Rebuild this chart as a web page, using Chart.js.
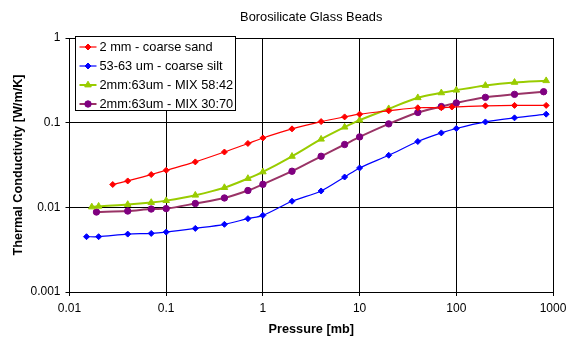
<!DOCTYPE html>
<html>
<head>
<meta charset="utf-8">
<script src="https://cdn.jsdelivr.net/npm/chart.js@4/dist/chart.umd.min.js"></script>
<style>
    html, body { margin: 0; padding: 0; background: #fff; }
    #wrap { width: 568px; height: 337px; }
</style>
</head>
<body>
<div id="wrap"><canvas id="chart" width="568" height="337"></canvas></div>
<script>
// values
const sandPressure = [0.028, 0.04, 0.07, 0.1, 0.2, 0.4, 0.7, 1, 2, 4, 7, 10, 20, 40, 70, 90, 200, 400, 850];
const sandK = [0.0186, 0.0205, 0.0244, 0.0274, 0.0344, 0.045, 0.0568, 0.066, 0.0845, 0.103, 0.117, 0.126, 0.138, 0.15, 0.15, 0.153, 0.158, 0.16, 0.16];

const siltPressure = [0.015, 0.02, 0.04, 0.07, 0.1, 0.2, 0.4, 0.7, 1, 2, 4, 7, 10, 20, 40, 70, 100, 200, 400, 850];
const siltK = [0.0045, 0.0045, 0.00483, 0.00492, 0.0051, 0.00564, 0.0063, 0.00735, 0.00804, 0.0118, 0.0156, 0.0228, 0.0292, 0.0412, 0.0599, 0.0757, 0.0854, 0.102, 0.114, 0.126];

const mix5842Pressure = [0.017, 0.02, 0.04, 0.07, 0.1, 0.2, 0.4, 0.7, 1, 2, 4, 7, 10, 20, 40, 70, 100, 200, 400, 850];
const mix5842K = [0.0101, 0.0103, 0.0108, 0.0114, 0.012, 0.0139, 0.0171, 0.0219, 0.0262, 0.04, 0.0638, 0.0885, 0.107, 0.146, 0.197, 0.225, 0.242, 0.275, 0.299, 0.313];

const mix3070Pressure = [0.019, 0.04, 0.07, 0.1, 0.2, 0.4, 0.7, 1, 2, 4, 7, 10, 20, 40, 70, 100, 200, 400, 800];
const mix3070K = [0.0088, 0.00904, 0.00955, 0.00966, 0.0111, 0.0129, 0.0158, 0.0187, 0.0267, 0.0401, 0.0552, 0.0679, 0.0968, 0.132, 0.155, 0.171, 0.199, 0.216, 0.232];

const seriesNames = ['2 mm - coarse sand', '53-63 um - coarse silt', '2mm:63um - MIX 58:42', '2mm:63um - MIX 30:70'];

const chartTitle = 'Borosilicate Glass Beads';
const xTicks = [0.01, 0.1, 1, 10, 100, 1000];
const xTickLabels = ['0.01', '0.1', '1', '10', '100', '1000'];
const yTicks = [0.001, 0.01, 0.1, 1];
const yTickLabels = ['0.001', '0.01', '0.1', '1'];

const FONT = 'Arial, "Liberation Sans", sans-serif';

function points(xs, ys) {
    return xs.map((x, i) => ({ x: x, y: ys[i] }));
}

// title and legend drawn by hand, placed like the original
const boxLegend = {
    id: 'boxLegend',
    afterDraw(chart) {
        const ctx = chart.ctx;
        const area = chart.chartArea;
        ctx.save();

        // title, centred over the plot area
        ctx.font = '12.8px ' + FONT;
        ctx.fillStyle = '#000';
        ctx.textAlign = 'center';
        ctx.textBaseline = 'middle';
        ctx.fillText(chartTitle, (area.left + area.right) / 2, 17);

        // legend box
        const left = 75.5, top = 36.5, w = 160, h = 74;
        ctx.textAlign = 'left';
        ctx.fillStyle = '#fff';
        ctx.fillRect(left, top, w, h);
        ctx.strokeStyle = '#000';
        ctx.lineWidth = 1;
        ctx.strokeRect(left, top, w, h);
        ctx.font = '12.8px ' + FONT;
        chart.data.datasets.forEach((ds, i) => {
            const y = top + 10.5 + i * 19;
            ctx.strokeStyle = ds.borderColor;
            ctx.lineWidth = ds.borderWidth;
            ctx.beginPath();
            ctx.moveTo(left + 4, y);
            ctx.lineTo(left + 21, y);
            ctx.stroke();
            ctx.fillStyle = ds.pointBackgroundColor;
            ctx.strokeStyle = ds.pointBorderColor;
            ctx.lineWidth = ds.pointBorderWidth;
            Chart.helpers.drawPoint(ctx, {
                pointStyle: ds.pointStyle,
                radius: ds.pointRadius,
                rotation: 0,
                borderWidth: ds.pointBorderWidth
            }, left + 12.5, y);
            ctx.fillStyle = '#000';
            ctx.fillText(ds.label, left + 24, y + 0.5);
        });
        ctx.restore();
    }
};

const ctx = document.getElementById('chart').getContext('2d');
new Chart(ctx, {
    type: 'line',
    data: {
        datasets: [
            {
                label: seriesNames[0],
                data: points(sandPressure, sandK),
                borderColor: '#ff0000',
                pointBackgroundColor: '#ff0000',
                pointBorderColor: '#ff0000',
                borderWidth: 1.2,
                pointBorderWidth: 1,
                pointStyle: 'rectRot',
                pointRadius: 3,
                tension: 0.3
            },
            {
                label: seriesNames[1],
                data: points(siltPressure, siltK),
                borderColor: '#0000ff',
                pointBackgroundColor: '#0000ff',
                pointBorderColor: '#0000ff',
                borderWidth: 1.2,
                pointBorderWidth: 1,
                pointStyle: 'rectRot',
                pointRadius: 3,
                tension: 0.3
            },
            {
                label: seriesNames[2],
                data: points(mix5842Pressure, mix5842K),
                borderColor: '#99cc00',
                pointBackgroundColor: '#99cc00',
                pointBorderColor: '#99cc00',
                borderWidth: 2,
                pointBorderWidth: 1,
                pointStyle: 'triangle',
                pointRadius: 3.8,
                tension: 0.3
            },
            {
                label: seriesNames[3],
                data: points(mix3070Pressure, mix3070K),
                borderColor: '#993366',
                pointBackgroundColor: '#800080',
                pointBorderColor: '#800080',
                borderWidth: 2,
                pointBorderWidth: 1,
                pointStyle: 'circle',
                pointRadius: 3.2,
                tension: 0.3
            }
        ]
    },
    options: {
        responsive: false,
        animation: false,
        layout: { padding: { left: 0, right: 15, top: 38, bottom: 0 } },
        plugins: {
            legend: { display: false },
            tooltip: { enabled: false },
            title: { display: false }
        },
        scales: {
            x: {
                type: 'logarithmic',
                min: 0.01,
                max: 1000,
                afterBuildTicks: axis => { axis.ticks = xTicks.map(v => ({ value: v })); },
                afterFit: axis => {
                    axis.height = 45;
                    axis.paddingLeft = 0;
                    axis.paddingRight = 0;
                },
                ticks: {
                    color: '#000',
                    font: { family: FONT, size: 12 },
                    padding: 5,
                    maxRotation: 0,
                    callback: (v, i) => xTickLabels[i]
                },
                grid: { color: '#000', lineWidth: 1, tickLength: 4, drawTicks: true },
                border: { color: '#000' },
                title: {
                    display: true,
                    text: 'Pressure [mb]',
                    color: '#000',
                    font: { family: FONT, size: 12.7, weight: 'bold' },
                    padding: { top: 2, bottom: 0 }
                }
            },
            y: {
                type: 'logarithmic',
                min: 0.001,
                max: 1,
                afterBuildTicks: axis => { axis.ticks = yTicks.map(v => ({ value: v })); },
                afterFit: axis => {
                    axis.width = 69.5;
                    axis.paddingTop = 0;
                    axis.paddingBottom = 0;
                },
                ticks: {
                    color: '#000',
                    font: { family: FONT, size: 12 },
                    padding: 5,
                    callback: (v, i) => yTickLabels[i]
                },
                grid: { color: '#000', lineWidth: 1, tickLength: 4 },
                border: { color: '#000' },
                title: {
                    display: true,
                    text: 'Thermal Conductivity [W/m/K]',
                    color: '#000',
                    font: { family: FONT, size: 12.7, weight: 'bold' },
                    padding: { top: 11, bottom: 4 }
                }
            }
        }
    },
    plugins: [boxLegend]
});
</script>
</body>
</html>
